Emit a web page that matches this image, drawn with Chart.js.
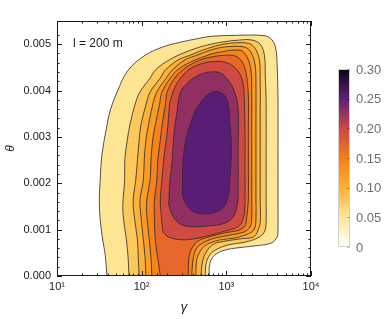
<!DOCTYPE html>
<html lang="en">
<head>
<meta charset="UTF-8">
<title>Contours - l = 200 m</title>
<script src="https://cdn.jsdelivr.net/npm/chart.js@4"></script>
<style>
  html, body { margin: 0; padding: 0; background: #fff; }
</style>
</head>
<body>
<canvas id="chart" width="390" height="319"></canvas>
<script>
// contour levels (filled from outside to inside), boundaries
// x = log10(gamma), y = theta in units of 1e-3
const contourLevels = [0.025, 0.05, 0.075, 0.1, 0.125, 0.15, 0.175, 0.2, 0.225];
const levelColors = ['#fee593', '#fdc95c', '#fcb23a', '#fa9c26', '#f6841c', '#e8672a', '#cf4a43', '#922f62', '#5a1d75'];

const logGamma1 = [1.59,1.57,1.54,1.51,1.50,1.51,1.53,1.58,1.63,1.71,1.84,2.04,2.25,2.45,2.69,2.82,3.10,3.42,3.52,3.58,3.60,3.61,3.61,3.61,3.61,3.60,3.53,3.34,3.10,2.95,2.84,2.80,2.80];
const theta1    = [0,0.45,0.78,1.21,1.64,2.07,2.61,3.15,3.58,3.97,4.44,4.76,4.94,5.04,5.13,5.17,5.19,5.19,5.13,4.94,4.55,3.79,2.50,1.64,0.99,0.84,0.71,0.65,0.60,0.54,0.41,0.22,0];

const logGamma2 = [1.85,1.84,1.82,1.78,1.78,1.80,1.80,1.83,1.86,1.92,1.98,2.10,2.16,2.28,2.43,2.69,2.93,3.16,3.30,3.40,3.45,3.46,3.47,3.47,3.47,3.47,3.45,3.37,3.22,3.02,2.89,2.81,2.76,2.75];
const theta2    = [0,0.39,0.78,1.32,1.64,2.07,2.50,2.93,3.25,3.69,3.97,4.27,4.44,4.61,4.76,4.94,5.04,5.09,5.09,5.00,4.76,4.33,3.79,2.50,1.64,1.16,0.95,0.82,0.73,0.67,0.58,0.47,0.26,0];

const logGamma3 = [1.97,1.96,1.95,1.91,1.90,1.93,1.95,1.97,1.99,2.05,2.10,2.22,2.28,2.43,2.57,2.69,2.87,3.04,3.26,3.34,3.39,3.40,3.40,3.40,3.40,3.40,3.37,3.32,3.16,2.98,2.85,2.77,2.72,2.70];
const theta3    = [0,0.39,0.78,1.32,1.64,2.07,2.50,2.93,3.25,3.69,3.97,4.27,4.44,4.66,4.76,4.85,4.96,5.02,5.02,4.91,4.66,4.22,3.36,2.50,1.64,1.16,0.97,0.84,0.80,0.75,0.69,0.54,0.32,0];

const logGamma4 = [2.05,2.04,2.02,1.99,1.98,2.02,2.03,2.05,2.08,2.13,2.18,2.29,2.36,2.51,2.65,2.81,2.98,3.21,3.29,3.34,3.35,3.35,3.35,3.35,3.35,3.33,3.26,3.10,2.93,2.78,2.70,2.65,2.64];
const theta4    = [0,0.39,0.78,1.32,1.64,2.07,2.50,2.93,3.25,3.69,3.97,4.27,4.44,4.66,4.76,4.87,4.94,4.94,4.83,4.55,4.12,3.36,2.50,1.64,1.21,1.01,0.91,0.82,0.78,0.69,0.56,0.35,0];

const logGamma5 = [2.12,2.11,2.09,2.06,2.06,2.10,2.11,2.13,2.16,2.21,2.24,2.34,2.42,2.57,2.72,2.87,3.16,3.24,3.29,3.30,3.30,3.30,3.30,3.30,3.28,3.21,3.04,2.87,2.74,2.65,2.61,2.59];
const theta5    = [0,0.39,0.78,1.32,1.64,2.07,2.50,2.93,3.25,3.69,3.97,4.27,4.44,4.61,4.72,4.81,4.87,4.74,4.44,4.01,3.36,2.50,1.64,1.25,1.06,0.95,0.88,0.82,0.73,0.60,0.39,0];

const logGamma6 = [2.22,2.19,2.16,2.15,2.15,2.18,2.19,2.22,2.24,2.28,2.30,2.39,2.48,2.63,2.81,3.07,3.17,3.23,3.26,3.26,3.26,3.26,3.24,3.22,3.15,2.98,2.83,2.69,2.61,2.56,2.55];
const theta6    = [0,0.39,0.78,1.32,1.64,2.07,2.50,2.93,3.25,3.69,3.97,4.27,4.44,4.61,4.72,4.76,4.66,4.40,3.90,3.15,2.28,1.64,1.25,1.08,0.99,0.93,0.86,0.78,0.65,0.43,0];

const logGamma7 = [2.25,2.23,2.22,2.24,2.26,2.29,2.31,2.33,2.37,2.44,2.55,2.69,2.87,3.02,3.13,3.19,3.21,3.22,3.22,3.22,3.21,3.17,3.10,2.95,2.81,2.67,2.52,2.39,2.30,2.25];
const theta7    = [0.95,1.32,1.64,2.07,2.50,2.93,3.25,3.69,3.97,4.22,4.44,4.57,4.63,4.59,4.44,4.22,3.90,3.15,2.28,1.64,1.32,1.12,1.03,0.95,0.88,0.82,0.78,0.80,0.86,0.95];

const logGamma8 = [2.32,2.33,2.36,2.38,2.42,2.46,2.55,2.67,2.81,2.93,3.04,3.11,3.14,3.14,3.14,3.13,3.07,2.95,2.78,2.63,2.48,2.38,2.32];
const theta8    = [1.53,1.96,2.50,3.04,3.58,3.97,4.18,4.33,4.40,4.38,4.18,3.90,3.58,2.72,2.00,1.53,1.25,1.12,1.08,1.06,1.10,1.25,1.53];

const logGamma9 = [2.48,2.49,2.52,2.57,2.64,2.74,2.84,2.95,3.01,3.04,3.06,3.04,3.02,2.97,2.88,2.75,2.62,2.54,2.49,2.48];
const theta9    = [1.96,2.50,2.93,3.25,3.58,3.84,3.97,3.94,3.79,3.36,2.72,2.07,1.70,1.49,1.38,1.34,1.38,1.51,1.70,1.96];

// axis ticks
const xTickValues = [10, 100, 1000, 10000];
const xTickLabels = ['10\u00B9', '10\u00B2', '10\u00B3', '10\u2074'];
const yTickValues = [0, 0.001, 0.002, 0.003, 0.004, 0.005];
const yTickLabels = ['0.000', '0.001', '0.002', '0.003', '0.004', '0.005'];

// colour bar
const cbValues = [0, 0.05, 0.10, 0.15, 0.20, 0.25, 0.30];
const cbLabels = ['0', '0.05', '0.10', '0.15', '0.20', '0.25', '0.30'];
const cbColors = ['#ffffff', '#fee79a', '#fdb031', '#f97e14', '#cc4545', '#5e1f79', '#0b0517'];

const FONT = '"Liberation Sans", Arial, sans-serif';

const logGammas = [logGamma1, logGamma2, logGamma3, logGamma4, logGamma5, logGamma6, logGamma7, logGamma8, logGamma9];
const thetas = [theta1, theta2, theta3, theta4, theta5, theta6, theta7, theta8, theta9];

let datasets = contourLevels.map((lvl, i) => ({
    label: 'level ' + lvl,
    data: logGammas[i].map((g, k) => ({ x: Math.pow(10, g), y: thetas[i][k] / 1000 })),
    showLine: true,
    fillColor: levelColors[i],
    borderColor: '#2a2a2a',
    borderWidth: 0.8,
    tension: 0.35,
    pointRadius: 0
}));

// fills every contour region under its line, using the line element's own path
const contourFill = {
    id: 'contourFill',
    beforeDatasetsDraw(chart) {
        const ctx = chart.ctx;
        const a = chart.chartArea;
        ctx.save();
        ctx.beginPath();
        ctx.rect(a.left, a.top, a.right - a.left, a.bottom - a.top);
        ctx.clip();
        chart.data.datasets.forEach((ds, i) => {
            const line = chart.getDatasetMeta(i).dataset;
            if (!line) return;
            line.updateControlPoints(a, 'x');
            ctx.beginPath();
            line.path(ctx);
            ctx.closePath();
            ctx.fillStyle = ds.fillColor;
            ctx.fill();
        });
        ctx.restore();
    }
};

// frame with inward ticks, colour bar, annotation
const frameAndBar = {
    id: 'frameAndBar',
    afterDraw(chart) {
        const ctx = chart.ctx;
        const a = chart.chartArea;
        const xs = chart.scales.x;
        const ys = chart.scales.y;
        ctx.save();
        ctx.strokeStyle = '#1a1a1a';
        ctx.lineWidth = 1;
        ctx.strokeRect(a.left + 0.5, a.top + 0.5, a.right - a.left - 1, a.bottom - a.top - 1);

        ctx.beginPath();
        xs.ticks.forEach(t => {
            const e = Math.log10(t.value);
            const major = Math.abs(e - Math.round(e)) < 1e-9;
            const len = major ? 5 : 2.5;
            const px = Math.round(xs.getPixelForValue(t.value)) + 0.5;
            ctx.moveTo(px, a.bottom); ctx.lineTo(px, a.bottom - len);
            ctx.moveTo(px, a.top); ctx.lineTo(px, a.top + len);
        });
        ys.ticks.forEach(t => {
            const major = yTickValues.some(v => Math.abs(v - t.value) < 1e-9);
            const len = major ? 5 : 2.5;
            const py = Math.round(ys.getPixelForValue(t.value)) + 0.5;
            ctx.moveTo(a.left, py); ctx.lineTo(a.left + len, py);
            ctx.moveTo(a.right, py); ctx.lineTo(a.right - len, py);
        });
        ctx.stroke();

        // annotation
        ctx.fillStyle = '#1a1a1a';
        ctx.font = '12px ' + FONT;
        ctx.textBaseline = 'middle';
        ctx.textAlign = 'left';
        ctx.fillText('l = 200 m', 73, 44);

        // colour bar
        const bx = 338, bw = 12, btop = 69, bbot = 247;
        const vmax = cbValues[cbValues.length - 1];
        const grad = ctx.createLinearGradient(0, bbot, 0, btop);
        cbValues.forEach((v, i) => grad.addColorStop(v / vmax, cbColors[i]));
        ctx.fillStyle = grad;
        ctx.fillRect(bx, btop, bw, bbot - btop);
        ctx.strokeStyle = '#cfcfcf';
        ctx.strokeRect(bx + 0.5, btop + 0.5, bw - 1, bbot - btop - 1);

        ctx.fillStyle = '#6e6e6e';
        ctx.font = '13px ' + FONT;
        ctx.strokeStyle = 'rgba(0,0,0,0.25)';
        cbValues.forEach((v, i) => {
            const py = bbot - (v / vmax) * (bbot - btop);
            ctx.fillText(cbLabels[i], bx + bw + 6, py + 1);
            ctx.beginPath();
            ctx.moveTo(bx + bw - 3, Math.round(py) + 0.5);
            ctx.lineTo(bx + bw, Math.round(py) + 0.5);
            ctx.stroke();
        });
        ctx.restore();
    }
};

new Chart(document.getElementById('chart').getContext('2d'), {
    type: 'scatter',
    data: { datasets: datasets },
    options: {
        responsive: false,
        animation: false,
        layout: { padding: { top: 21, right: 79, left: 0, bottom: 0 } },
        plugins: { legend: { display: false }, tooltip: { enabled: false } },
        scales: {
            x: {
                type: 'logarithmic',
                min: 10,
                max: 10000,
                grid: { display: false, drawTicks: false },
                border: { display: false },
                ticks: {
                    autoSkip: false,
                    maxRotation: 0,
                    padding: 4,
                    color: '#1a1a1a',
                    font: { family: FONT, size: 11 },
                    callback: function (value) {
                        const k = xTickValues.findIndex(v => Math.abs(v - value) < 1e-6);
                        return k >= 0 ? xTickLabels[k] : '';
                    }
                },
                title: {
                    display: true,
                    text: '\u03B3',
                    color: '#1a1a1a',
                    font: { family: FONT, size: 13, style: 'italic' },
                    padding: { top: 0, bottom: 4 }
                },
                afterFit: function (scale) { scale.height = 43; }
            },
            y: {
                min: 0,
                max: 0.0055,
                grid: { display: false, drawTicks: false },
                border: { display: false },
                ticks: {
                    stepSize: 0.0002,
                    autoSkip: false,
                    padding: 6,
                    color: '#1a1a1a',
                    font: { family: FONT, size: 11 },
                    callback: function (value) {
                        const k = yTickValues.findIndex(v => Math.abs(v - value) < 1e-9);
                        return k >= 0 ? yTickLabels[k] : '';
                    }
                },
                title: {
                    display: true,
                    text: '\u03B8',
                    color: '#1a1a1a',
                    font: { family: FONT, size: 12, style: 'italic' },
                    padding: { top: 3, bottom: 0 }
                },
                afterFit: function (scale) { scale.width = 57; }
            }
        }
    },
    plugins: [contourFill, frameAndBar]
});
</script>
</body>
</html>
